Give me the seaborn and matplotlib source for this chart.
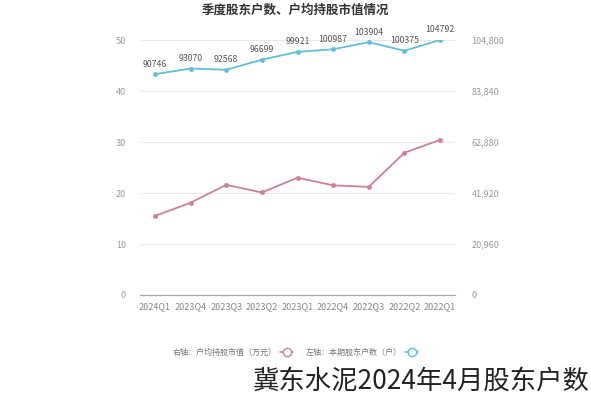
import matplotlib
matplotlib.use('Agg')
import matplotlib.pyplot as plt
import numpy as np
import pandas as pd
import seaborn as sns
from matplotlib.lines import Line2D
from matplotlib.ticker import FuncFormatter

# data (quarter order 2022Q1 -> 2024Q1)
quarters = ['2022Q1', '2022Q2', '2022Q3', '2022Q4', '2023Q1',
            '2023Q2', '2023Q3', '2023Q4', '2024Q1']
holders = [104792, 100375, 103904, 100987, 99921, 96699, 92568, 93070, 90746]
avg_value = [30.4, 27.9, 21.2, 21.5, 23.0, 20.1, 21.6, 18.1, 15.5]
holder_ticks = [0, 20960, 41920, 62880, 83840, 104800]
value_ticks = [0, 10, 20, 30, 40, 50]

title = '季度股东户数、户均持股市值情况'
legend_labels = ['右轴：户均持股市值（万元）', '左轴：本期股东户数（户）']
caption = '冀东水泥2024年4月股东户数'

blue = '#62bfd9'
pink = '#cf7f9e'

sns.set_theme(style='white')
plt.rcParams['font.family'] = ['Noto Sans CJK SC', 'DejaVu Sans']

df = pd.DataFrame({'pos': np.arange(len(quarters)), 'quarter': quarters,
                   'holders': holders, 'value': avg_value})

fig = plt.figure(figsize=(5.91, 4.0), dpi=100)
ax = fig.add_axes([140 / 591, 105 / 400, 315 / 591, 255 / 400])
ax2 = ax.twinx()

# value line (left side in this layout)
sns.lineplot(data=df, x='pos', y='value', ax=ax, color=pink, marker='o',
             markersize=3.5, markeredgewidth=0, linewidth=1.3)
# holder count line
sns.lineplot(data=df, x='pos', y='holders', ax=ax2, color=blue, marker='o',
             markersize=3.5, markeredgewidth=0, linewidth=1.3)

for i, v in enumerate(holders):
    ax2.annotate(f'{v}', (i, v), xytext=(0, 4), textcoords='offset points',
                 ha='center', va='bottom', fontsize=6.3, color='#555555')

# mirrored category order, as in the reference picture
ax.set_xlim(len(quarters) - 1 + 0.42, -0.42)
ax.set_xticks(df['pos'])
ax.set_xticklabels(quarters, fontsize=6.5, color='#888888')
ax.set_xlabel('')

ax.set_ylim(0, 50)
ax.set_yticks(value_ticks)
ax.set_ylabel('')
ax.tick_params(axis='y', labelsize=6.5, labelcolor='#999999', length=0, pad=10)
ax.tick_params(axis='x', length=3, color='#aaaaaa', width=0.8, pad=2)
ax.yaxis.grid(True, color='#e8e8e8', linewidth=0.8)

ax2.set_ylim(0, 104800)
ax2.set_yticks(holder_ticks)
ax2.yaxis.set_major_formatter(FuncFormatter(lambda v, p: f'{int(v):,}'))
ax2.set_ylabel('')
ax2.tick_params(axis='y', labelsize=6.5, labelcolor='#999999', length=0, pad=12)

for a in (ax, ax2):
    for s in ('top', 'left', 'right'):
        a.spines[s].set_visible(False)
    a.spines['bottom'].set_color('#aaaaaa')
    a.spines['bottom'].set_linewidth(0.8)

handles = [
    Line2D([0], [0], color=pink, marker='o', markerfacecolor='white',
           markersize=6, linewidth=1.2),
    Line2D([0], [0], color=blue, marker='o', markerfacecolor='white',
           markersize=6, linewidth=1.2),
]
fig.legend(handles, legend_labels, loc='center', bbox_to_anchor=(0.5, 0.12),
           ncol=2, frameon=False, fontsize=5.8, labelcolor='#777777',
           handlelength=1.6, handletextpad=0.4, columnspacing=1.6,
           markerfirst=False)

fig.text(0.5, 0.99, title, ha='center', va='top', fontsize=9,
         fontweight='bold', color='#333333')
fig.text(0.998, 0.048, caption, ha='right', va='center', fontsize=19,
         color='#222222')

fig.savefig('out.png', dpi=100)
